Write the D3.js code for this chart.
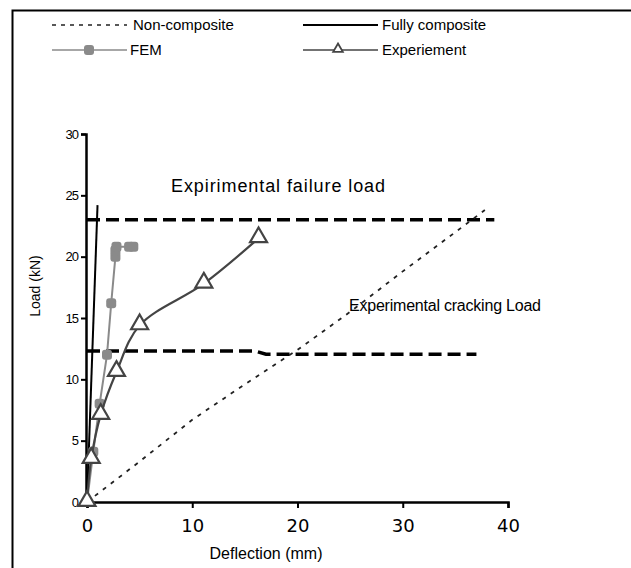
<!DOCTYPE html>
<html>
<head>
<meta charset="utf-8">
<script src="https://cdn.jsdelivr.net/npm/d3@7"></script>
<style>
	body { margin: 0; background: white; }
	svg { display: block; font-family: "Liberation Sans", Arial, sans-serif; }
</style>
</head>
<body>
<svg id="svg1" width="631" height="568"></svg>
<script>
// deflection (mm), load (kN)
var nonComposite_x = [0, 5, 10, 15, 20, 25, 30, 35, 37.8];
var nonComposite_y = [0, 3.3, 6.7, 9.6, 12.4, 15.5, 18.8, 22.0, 23.8];

var fullyComposite_x = [0, 1.0];
var fullyComposite_y = [0, 24.2];

var fem_x = [0, 0.6, 1.2, 1.9, 2.3, 2.7, 2.7, 2.8, 4.0, 4.4];
var fem_y = [0, 4.1, 8.0, 12.0, 16.2, 20.0, 20.5, 20.8, 20.8, 20.8];

var exp_x = [0, 0.4, 1.3, 2.8, 5.0, 11.1, 16.3];
var exp_y = [0, 3.5, 7.1, 10.6, 14.4, 17.8, 21.5];

var failure_x = [0, 38.7];
var failure_y = [23, 23];

var cracking_x = [0, 16.0, 17.0, 37.0];
var cracking_y = [12.3, 12.3, 12.05, 12.05];

var xTicks = [0, 10, 20, 30, 40];
var yTicks = [0, 5, 10, 15, 20, 25, 30];

var zip = function(xs, ys)
{
	return xs.map(function(x, i) { return {x: x, y: ys[i]}; });
}

var draw_chart = function()
{
	var svg = d3.select("#svg1");

	// outer frame
	svg.append("rect")
		.attr("x", 12.5).attr("y", 10.5)
		.attr("width", 700).attr("height", 700)
		.attr("fill", "none")
		.attr("stroke", "black")
		.attr("stroke-width", 2);

	var x = d3.scaleLinear().domain([0, 40]).range([87, 508]);
	var y = d3.scaleLinear().domain([0, 30]).range([502, 134]);

	var line = d3.line()
		.x(function(d) { return x(d.x); })
		.y(function(d) { return y(d.y); });

	// axes
	var xAxis = svg.append("g")
		.attr("transform", "translate(0,502)")
		.call(d3.axisBottom(x).tickValues(xTicks).tickSize(6).tickPadding(11).tickFormat(d3.format("d")));
	xAxis.selectAll("text").style("font-size", "18px").style("font-family", "DejaVu Sans");

	var yAxis = svg.append("g")
		.attr("transform", "translate(86,0)")
		.call(d3.axisLeft(y).tickValues(yTicks).tickSize(5).tickPadding(3).tickFormat(d3.format("d")));
	yAxis.selectAll("text").style("font-size", "13px").style("letter-spacing", "-1px");

	svg.selectAll(".domain").attr("stroke-width", 2.5);
	svg.selectAll(".tick line").attr("stroke-width", 2);

	svg.append("text")
		.attr("x", 266).attr("y", 559)
		.attr("text-anchor", "middle")
		.style("font-size", "16px")
		.text("Deflection (mm)");

	svg.append("text")
		.attr("transform", "translate(40,286) rotate(-90)")
		.attr("text-anchor", "middle")
		.style("font-size", "14px")
		.text("Load (kN)");

	// reference load lines
	svg.append("path")
		.datum(zip(failure_x, failure_y))
		.attr("d", line)
		.attr("fill", "none")
		.attr("stroke", "black")
		.attr("stroke-width", 3.5)
		.attr("stroke-dasharray", "13,6");

	svg.append("path")
		.datum(zip(cracking_x, cracking_y))
		.attr("d", line)
		.attr("fill", "none")
		.attr("stroke", "black")
		.attr("stroke-width", 3.5)
		.attr("stroke-dasharray", "13,6");

	svg.append("text")
		.attr("x", 171).attr("y", 192)
		.style("font-size", "18px")
		.attr("textLength", 214)
		.text("Expirimental failure load");

	svg.append("text")
		.attr("x", 349).attr("y", 311)
		.style("font-size", "16px")
		.attr("textLength", 192)
		.text("Experimental cracking Load");

	// non composite
	svg.append("path")
		.datum(zip(nonComposite_x, nonComposite_y))
		.attr("d", line)
		.attr("fill", "none")
		.attr("stroke", "#222")
		.attr("stroke-width", 1.8)
		.attr("stroke-dasharray", "4,6");

	// fully composite
	svg.append("path")
		.datum(zip(fullyComposite_x, fullyComposite_y))
		.attr("d", line)
		.attr("fill", "none")
		.attr("stroke", "black")
		.attr("stroke-width", 2);

	// FEM
	var femData = zip(fem_x, fem_y);
	svg.append("path")
		.datum(femData)
		.attr("d", line)
		.attr("fill", "none")
		.attr("stroke", "#8a8a8a")
		.attr("stroke-width", 2);
	svg.selectAll(".fem")
		.data(femData.slice(1))
		.enter().append("rect")
		.attr("class", "fem")
		.attr("x", function(d) { return x(d.x) - 5; })
		.attr("y", function(d) { return y(d.y) - 5; })
		.attr("width", 10).attr("height", 10)
		.attr("rx", 3)
		.attr("fill", "#8a8a8a");

	// experiment
	var expData = zip(exp_x, exp_y);
	svg.append("path")
		.datum(expData)
		.attr("d", line.curve(d3.curveCatmullRom))
		.attr("fill", "none")
		.attr("stroke", "#444")
		.attr("stroke-width", 2.2);
	line.curve(d3.curveLinear);

	var tri = d3.symbol().type(d3.symbolTriangle).size(125);
	svg.selectAll(".exp")
		.data(expData)
		.enter().append("path")
		.attr("class", "exp")
		.attr("d", tri)
		.attr("transform", function(d) { return "translate(" + x(d.x) + "," + (y(d.y) - 1) + ")"; })
		.attr("fill", "white")
		.attr("stroke", "#444")
		.attr("stroke-width", 2.2);

	// legend
	var legend = svg.append("g").style("font-size", "15px");

	legend.append("line")
		.attr("x1", 52).attr("x2", 127).attr("y1", 25).attr("y2", 25)
		.attr("stroke", "#222").attr("stroke-width", 1.6)
		.attr("stroke-dasharray", "4,5");
	legend.append("text").attr("x", 133).attr("y", 30).text("Non-composite");

	legend.append("line")
		.attr("x1", 303).attr("x2", 378).attr("y1", 25).attr("y2", 25)
		.attr("stroke", "black").attr("stroke-width", 2);
	legend.append("text").attr("x", 382).attr("y", 30).text("Fully composite");

	legend.append("line")
		.attr("x1", 52).attr("x2", 127).attr("y1", 50).attr("y2", 50)
		.attr("stroke", "#8a8a8a").attr("stroke-width", 1.5);
	legend.append("rect")
		.attr("x", 84).attr("y", 45).attr("width", 10).attr("height", 10).attr("rx", 3)
		.attr("fill", "#8a8a8a");
	legend.append("text").attr("x", 130).attr("y", 55).text("FEM");

	legend.append("line")
		.attr("x1", 303).attr("x2", 378).attr("y1", 50).attr("y2", 50)
		.attr("stroke", "#444").attr("stroke-width", 1.5);
	legend.append("path")
		.attr("d", d3.symbol().type(d3.symbolTriangle).size(40))
		.attr("transform", "translate(338,49)")
		.attr("fill", "white").attr("stroke", "#444").attr("stroke-width", 1.8);
	legend.append("text").attr("x", 382).attr("y", 55).text("Experiement");
}

draw_chart();
</script>
</body>
</html>
